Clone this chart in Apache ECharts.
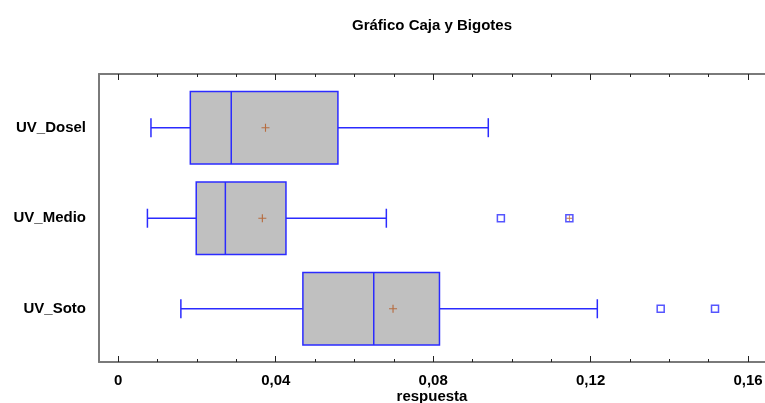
<!DOCTYPE html>
<html>
<head>
<meta charset="utf-8">
<script src="https://cdn.jsdelivr.net/npm/echarts@6/dist/echarts.min.js"></script>
<style>
html, body { margin: 0; padding: 0; background: #ffffff; }
#chart { width: 765px; height: 403px; }
</style>
</head>
<body>
<div id="chart"></div>
<script>
// Five-number summaries of the response for each UV level
const categories  = ['UV_Dosel', 'UV_Medio', 'UV_Soto'];
const whiskerLow  = [0.0083, 0.0074, 0.0159];
const quartile1   = [0.0183, 0.0198, 0.0469];
const medians     = [0.0287, 0.0272, 0.0649];
const quartile3   = [0.0558, 0.0426, 0.0816];
const whiskerHigh = [0.0940, 0.0681, 0.1217];
const means       = [0.0374, 0.0366, 0.0698];

// Points beyond the whiskers: [value, category index]
const outsidePoints = [[0.0972, 1], [0.1378, 2], [0.1516, 2]];
const farOutsidePoints = [[0.1146, 1]];

// Axis ticks and their labels
const majorTicks = [0, 0.04, 0.08, 0.12, 0.16];
const tickLabels = ['0', '0,04', '0,08', '0,12', '0,16'];
const minorTicks = [0, 0.01, 0.02, 0.03, 0.04, 0.05, 0.06, 0.07, 0.08,
                    0.09, 0.10, 0.11, 0.12, 0.13, 0.14, 0.15, 0.16];
const categoryPositions = [0, 1, 2];

const BLUE = '#2b2bff';
const BROWN = '#b4561e';
const FRAME = '#7a7a7a';
const FONT = '"Liberation Sans", Arial, sans-serif';
const PLUS = 'path://M-1,-0.14H1V0.14H-1Z M-0.14,-1H0.14V1H-0.14Z';

const X_MIN = -0.0049, X_MAX = 0.1643;

function labelFor(v) {
  const i = majorTicks.findIndex(t => Math.abs(t - v) < 1e-9);
  return i >= 0 ? tickLabels[i] : '';
}

function xAxisDef(position, ticks, len, withLine, withLabels) {
  return {
    type: 'value', position: position, min: X_MIN, max: X_MAX,
    axisLine: { show: withLine, onZero: false, lineStyle: { color: FRAME, width: 2 } },
    axisTick: { show: true, inside: true, length: len, customValues: ticks,
                lineStyle: { color: '#222', width: 1 } },
    axisLabel: withLabels ? {
      show: true, customValues: majorTicks, formatter: labelFor, margin: 11,
      fontFamily: FONT, fontWeight: 'bold', fontSize: 15, color: '#000'
    } : { show: false },
    splitLine: { show: false },
    name: withLabels ? 'respuesta' : '',
    nameLocation: 'middle', nameGap: 27, nameMoveOverlap: false,
    nameTextStyle: { fontFamily: FONT, fontWeight: 'bold', fontSize: 15, color: '#000' }
  };
}

const boxData = categories.map((c, i) =>
  [i, whiskerLow[i], quartile1[i], medians[i], quartile3[i], whiskerHigh[i]]);

function renderBox(params, api) {
  const idx = api.value(0);
  const band = api.size([0, 1])[1];
  const half = band * 0.4;
  const cap = band * 0.105;
  const pLow = api.coord([api.value(1), idx]);
  const pQ1 = api.coord([api.value(2), idx]);
  const pMed = api.coord([api.value(3), idx]);
  const pQ3 = api.coord([api.value(4), idx]);
  const pHigh = api.coord([api.value(5), idx]);
  const y = pMed[1];
  const lineStyle = { stroke: BLUE, lineWidth: 1.5 };
  return {
    type: 'group',
    children: [
      { type: 'line', shape: { x1: pLow[0], y1: y, x2: pQ1[0], y2: y }, style: lineStyle },
      { type: 'line', shape: { x1: pQ3[0], y1: y, x2: pHigh[0], y2: y }, style: lineStyle },
      { type: 'line', shape: { x1: pLow[0], y1: y - cap, x2: pLow[0], y2: y + cap }, style: lineStyle },
      { type: 'line', shape: { x1: pHigh[0], y1: y - cap, x2: pHigh[0], y2: y + cap }, style: lineStyle },
      { type: 'rect', shape: { x: pQ1[0], y: y - half, width: pQ3[0] - pQ1[0], height: 2 * half },
        style: { fill: '#c0c0c0', stroke: BLUE, lineWidth: 1.5 } },
      { type: 'line', shape: { x1: pMed[0], y1: y - half, x2: pMed[0], y2: y + half }, style: lineStyle }
    ]
  };
}

const chart = echarts.init(document.getElementById('chart'), null, { renderer: 'canvas' });
chart.setOption({
  animation: false,
  backgroundColor: '#ffffff',
  title: {
    text: 'Gráfico Caja y Bigotes',
    left: 427, top: 13, textAlign: 'center',
    textStyle: { fontFamily: FONT, fontWeight: 'bold', fontSize: 15, color: '#000' }
  },
  grid: { left: 99, right: 0, top: 74, bottom: 41, outerBoundsMode: 'none', containLabel: false },
  xAxis: [
    xAxisDef('bottom', majorTicks, 6, true, true),
    xAxisDef('bottom', minorTicks, 3, false, false),
    xAxisDef('top', majorTicks, 6, true, false),
    xAxisDef('top', minorTicks, 3, false, false)
  ],
  yAxis: {
    type: 'value', inverse: true, min: -0.593, max: 2.588,
    axisLine: { show: true, onZero: false, lineStyle: { color: FRAME, width: 2 } },
    axisTick: { show: false },
    axisLabel: {
      show: true, customValues: categoryPositions,
      formatter: v => categories[Math.round(v)] || '',
      margin: 13, fontFamily: FONT, fontWeight: 'bold', fontSize: 15, color: '#000'
    },
    splitLine: { show: false }
  },
  series: [
    {
      type: 'custom', xAxisIndex: 0, yAxisIndex: 0,
      data: boxData, encode: { x: [1, 2, 3, 4, 5], y: 0 },
      renderItem: renderBox, silent: true
    },
    {
      type: 'scatter', xAxisIndex: 0, yAxisIndex: 0, silent: true,
      data: means.map((m, i) => [m, i]),
      symbol: PLUS, symbolSize: 8,
      itemStyle: { color: BROWN }
    },
    {
      type: 'scatter', xAxisIndex: 0, yAxisIndex: 0, silent: true,
      data: outsidePoints.concat(farOutsidePoints),
      symbol: 'rect', symbolSize: 7,
      itemStyle: { color: '#ffffff', borderColor: BLUE, borderWidth: 1.5 }
    },
    {
      type: 'scatter', xAxisIndex: 0, yAxisIndex: 0, silent: true,
      data: farOutsidePoints,
      symbol: PLUS, symbolSize: 6,
      itemStyle: { color: BROWN }
    }
  ]
});
</script>
</body>
</html>
